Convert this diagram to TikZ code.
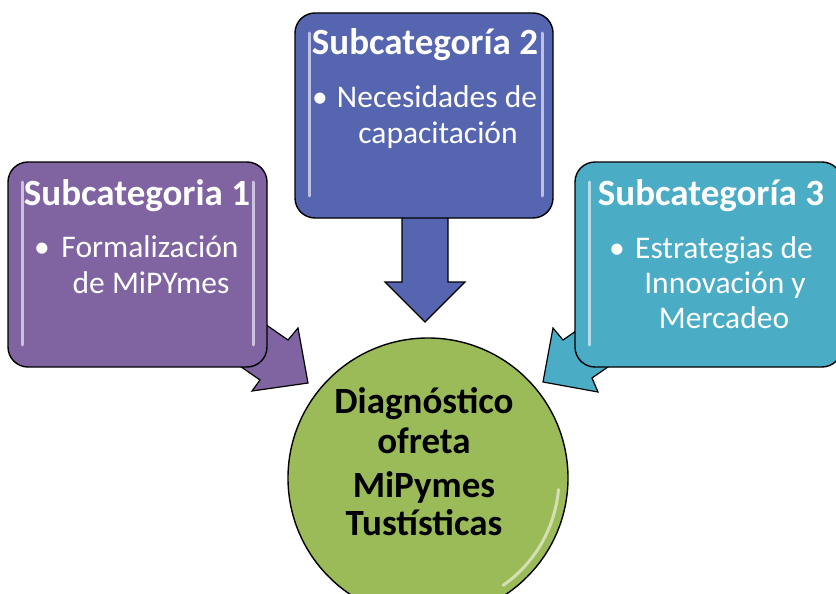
\documentclass[tikz,border=0pt]{standalone}
\usepackage{fontspec}
\setmainfont{Carlito}
\definecolor{cpurple}{HTML}{8064A2}
\definecolor{cblue}{HTML}{5565B0}
\definecolor{cteal}{HTML}{4BACC6}
\definecolor{cgreen}{HTML}{9BBB59}
\begin{document}
\begin{tikzpicture}[x=1pt,y=-1pt,
  box/.style={draw=black, line width=1.4pt, rounded corners=20pt, inner sep=0},
  barrow/.style={draw=black, line width=1.2pt, line join=miter},
  ttl/.style={text=white, font=\fontsize{37}{44}\selectfont\bfseries, anchor=base, inner sep=0},
  itm/.style={text=white, font=\fontsize{31.5}{38}\selectfont, anchor=base, inner sep=0},
  ctr/.style={text=black, font=\fontsize{37}{44}\selectfont\bfseries, anchor=base, inner sep=0},
  gloss/.style={line width=3pt, line cap=round}]
\useasboundingbox (0,0) rectangle (836,594);
\clip (0,0) rectangle (836,594);

% block arrows (behind boxes)
\draw[barrow, fill=cpurple] (239,306) -- (288,340) -- (298,328) -- (308,383) -- (252,391) -- (260,380) -- (211,346) -- cycle;
\draw[barrow, fill=cteal] (612,306) -- (563,340) -- (553,328) -- (543,382) -- (598,392) -- (592,378) -- (641,344) -- cycle;
\draw[barrow, fill=cblue] (402,200) -- (402,282) -- (385,282) -- (425,322) -- (465,282) -- (448,282) -- (448,200) -- cycle;

% boxes
\node[box, fill=cpurple, minimum width=259pt, minimum height=205pt] (s1) at (137.5,264.5) {};
\node[box, fill=cblue, minimum width=258pt, minimum height=205pt] (s2) at (424,115.5) {};
\node[box, fill=cteal, minimum width=267pt, minimum height=205pt] (s3) at (708.5,264.5) {};

% gloss strips
\draw[gloss, cpurple!40!white] (22,182) -- (22,345);
\draw[gloss, cpurple!40!white] (253,182) -- (253,345);
\draw[gloss, cblue!40!white] (309,33) -- (309,196);
\draw[gloss, cblue!40!white] (542,33) -- (542,196);
\draw[gloss, cteal!40!white] (589,182) -- (589,345);

% circle
\node[circle, draw=black, line width=1.4pt, fill=cgreen, minimum size=280pt, inner sep=0] (c) at (428,478) {};
\draw[gloss, cgreen!45!white] ([shift={(5:131)}]c.center) arc[start angle=5, end angle=55, radius=131];

% texts
\node[ttl] (t1) at (137,205) {Subcategoria 1};
\node[itm] (b1) at (42,257) {•};
\node[itm] (l11) at (150,257) {Formalización};
\node[itm] (l12) at (151,293) {de MiPYmes};

\node[ttl] (t2) at (425,55) {Subcategoría 2};
\node[itm] (b2) at (320,107) {•};
\node[itm] (l21) at (437,107) {Necesidades de};
\node[itm] (l22) at (438,143) {capacitación};

\node[ttl] (t3) at (711,205) {Subcategoría 3};
\node[itm] (b3) at (617,258) {•};
\node[itm] (l31) at (724,258) {Estrategias de};
\node[itm] (l32) at (725,293) {Innovación y};
\node[itm] (l33) at (724,328) {Mercadeo};

\node[ctr] (c1) at (424,413) {Diagnóstico};
\node[ctr] (c2) at (424,453) {ofreta};
\node[ctr] (c3) at (424,497) {MiPymes};
\node[ctr] (c4) at (424,535) {Tustísticas};
\end{tikzpicture}
\end{document}
